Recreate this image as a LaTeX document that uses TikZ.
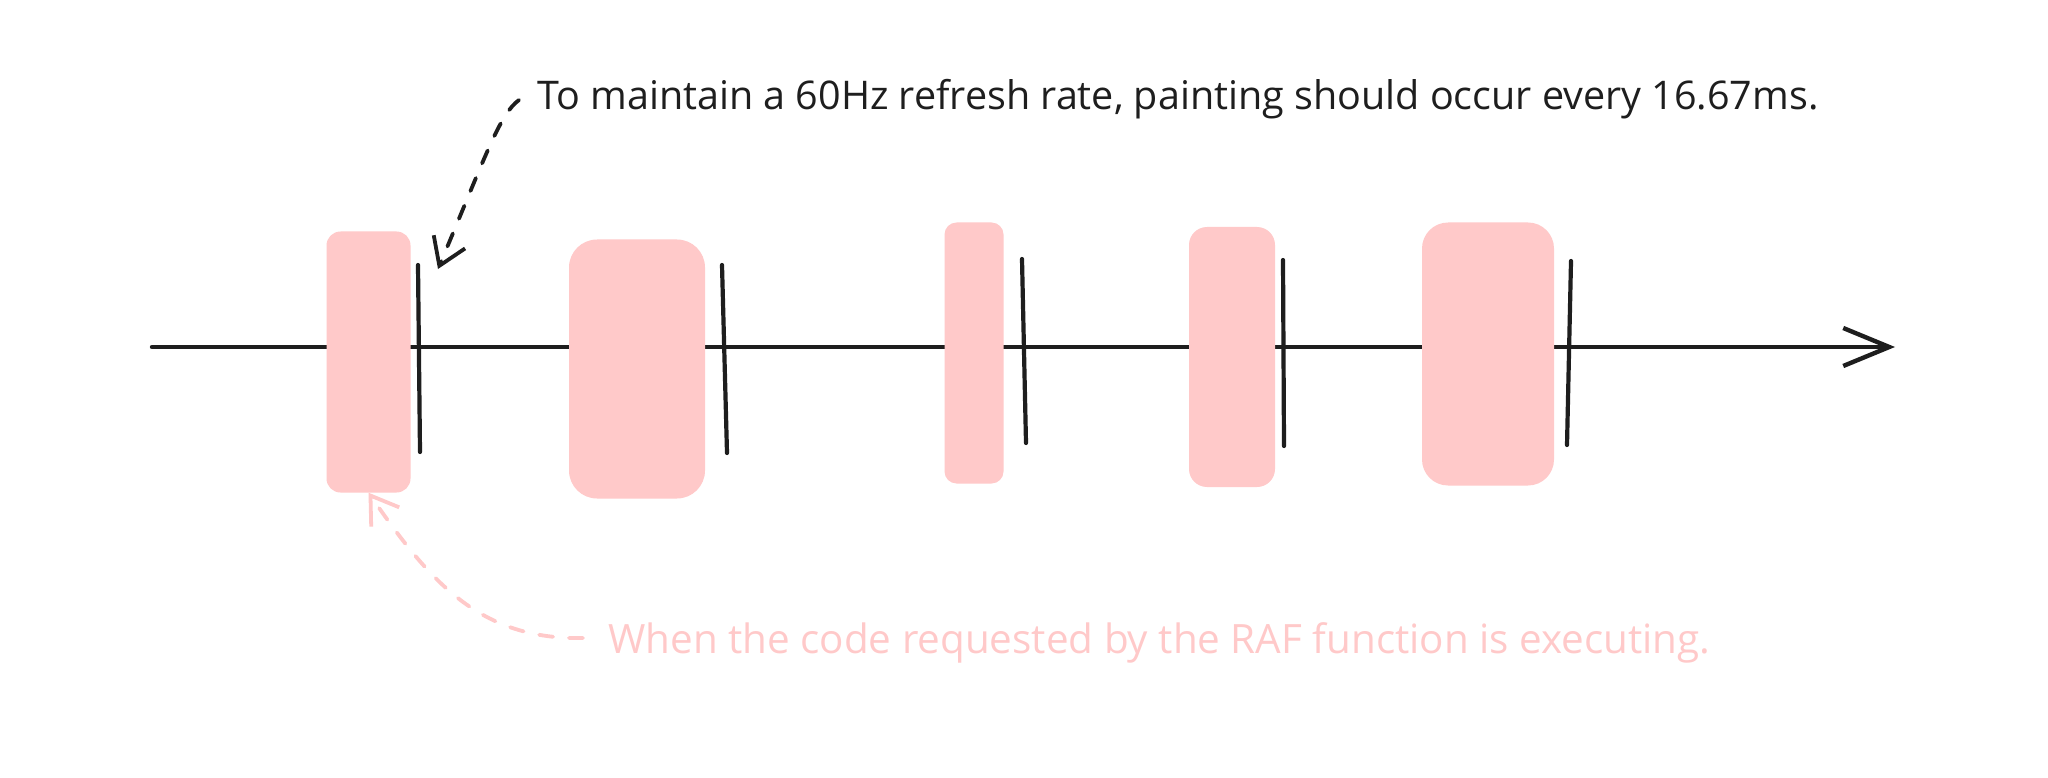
\documentclass[tikz,border=0pt]{standalone}
\usepackage{fontspec}
\usepackage{graphicx}
\setmainfont{Open Sans}
\usetikzlibrary{arrows.meta}
\definecolor{rafpink}{HTML}{FFC9C9}
\definecolor{ink}{HTML}{1E1E1E}
\begin{document}
\begin{tikzpicture}[x=1pt,y=-1pt,
  block/.style={rectangle, fill=rafpink, rounded corners=16pt, inner sep=0pt},
  tickline/.style={draw=ink, line width=4.2pt, line cap=round},
  axisline/.style={draw=ink, line width=4.4pt, line cap=round,
    -{Straight Barb[length=46pt,width=38pt,line width=4.4pt]}},
  blackdash/.style={draw=ink, line width=3.8pt, line cap=round, dash pattern=on 14pt off 16pt,
    -{Straight Barb[length=26pt,width=34pt,line width=3.8pt]}},
  pinkdash/.style={draw=rafpink, line width=3.8pt, line cap=round, dash pattern=on 14pt off 16pt,
    -{Straight Barb[length=26pt,width=34pt,line width=3.8pt]}},
  note/.style={inner sep=0pt, anchor=base west}]
\useasboundingbox (0,0) rectangle (2048,778);
\fill[white] (0,0) rectangle (2048,778);

% time axis
\coordinate (ax0) at (152,347);
\coordinate (ax1) at (1895,347);
\draw[axisline] (ax0) -- (ax1);

% executing blocks
\node[block, rounded corners=14pt, minimum width=84pt, minimum height=261pt] (b1) at (368.5,362) {};
\node[block, rounded corners=28pt, minimum width=136pt, minimum height=259pt] (b2) at (637,369) {};
\node[block, rounded corners=12pt, minimum width=59pt, minimum height=261pt] (b3) at (974,353) {};
\node[block, rounded corners=18pt, minimum width=86pt, minimum height=260pt] (b4) at (1232,357) {};
\node[block, rounded corners=26pt, minimum width=132pt, minimum height=263pt] (b5) at (1488,354) {};

% frame ticks
\coordinate (k1a) at (418,265); \coordinate (k1b) at (420,452);
\coordinate (k2a) at (722,265); \coordinate (k2b) at (727,453);
\coordinate (k3a) at (1022,259); \coordinate (k3b) at (1026,443);
\coordinate (k4a) at (1283,260); \coordinate (k4b) at (1284,446);
\coordinate (k5a) at (1571,261); \coordinate (k5b) at (1567,445);
\draw[tickline] (k1a) -- (k1b);
\draw[tickline] (k2a) -- (k2b);
\draw[tickline] (k3a) -- (k3b);
\draw[tickline] (k4a) -- (k4b);
\draw[tickline] (k5a) -- (k5b);

% notes
\node[note, text=ink] (t1) at (537,110)
  {\resizebox{1281pt}{!}{To maintain a 60Hz refresh rate, painting should occur every 16.67ms.}};
\node[note, text=rafpink] (t2) at (608,653)
  {\resizebox{1102pt}{!}{When the code requested by the RAF function is executing.}};

% connectors
\coordinate (s1) at (519,100);
\coordinate (e1) at (438,269);
\draw[blackdash] (s1) .. controls (500,114) and (488,150) .. (e1);
\coordinate (s2) at (583,638);
\draw[pinkdash] (s2) .. controls (480,640) and (430,582) .. (b1.south);
\end{tikzpicture}
\end{document}
